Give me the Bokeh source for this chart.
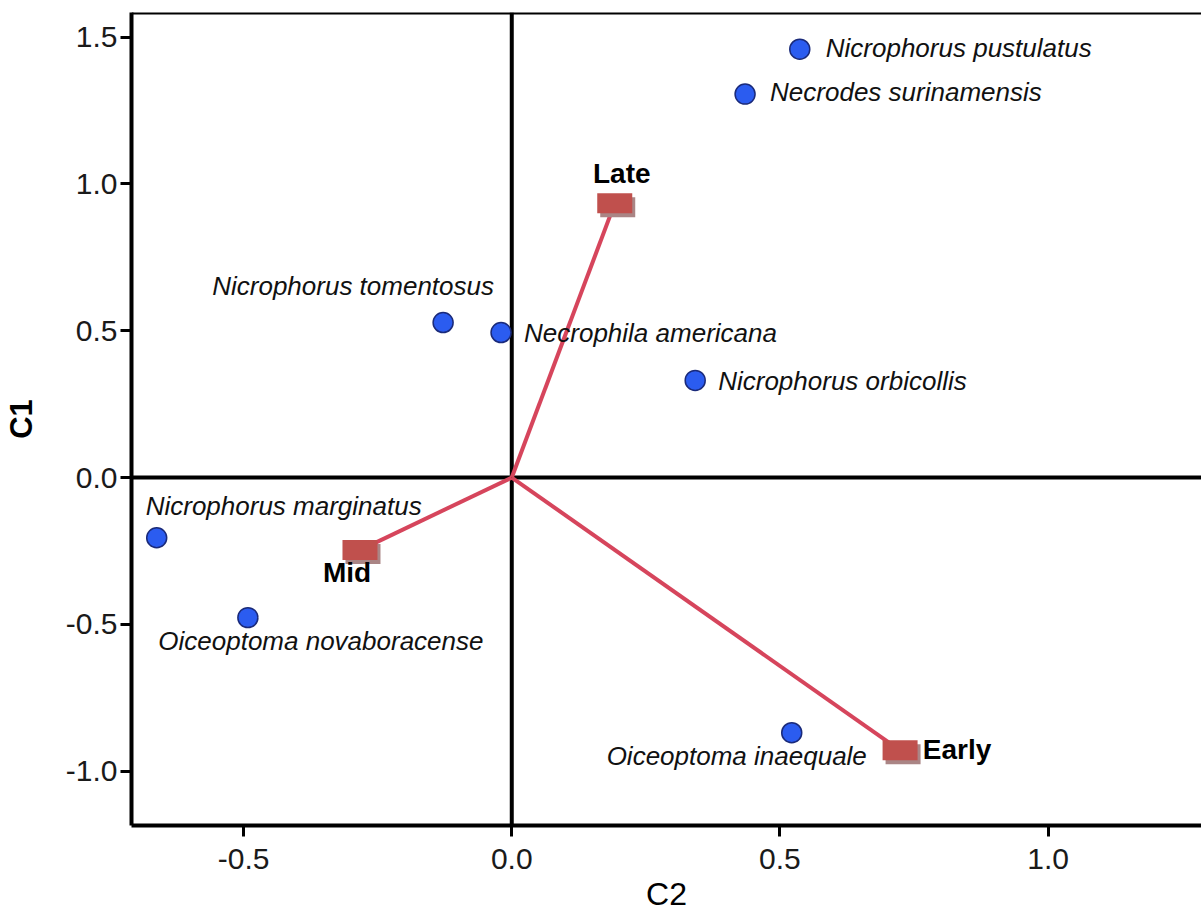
from bokeh.plotting import figure
from bokeh.models import ColumnDataSource, Span, FixedTicker, PrintfTickFormatter, Range1d
from bokeh.transform import dodge
from bokeh.core.properties import value
from bokeh.embed import file_html
from bokeh.resources import INLINE

# ---- data ----
species = ["Nicrophorus pustulatus", "Necrodes surinamensis", "Nicrophorus tomentosus",
           "Necrophila americana", "Nicrophorus orbicollis", "Nicrophorus marginatus",
           "Oiceoptoma novaboracense", "Oiceoptoma inaequale"]
species_c2 = [0.537, 0.435, -0.128, -0.020, 0.342, -0.662, -0.492, 0.522]
species_c1 = [1.459, 1.306, 0.528, 0.494, 0.331, -0.205, -0.477, -0.869]

stages = ["Late", "Mid", "Early"]
stage_c2 = [0.192, -0.283, 0.724]
stage_c1 = [0.934, -0.247, -0.929]

x_ticks = [-0.5, 0.0, 0.5, 1.0]
y_ticks = [-1.0, -0.5, 0.0, 0.5, 1.0, 1.5]
x_title = "C2"
y_title = "C1"

# ---- layout / style ----
X0, X1 = -0.709, 1.286
Y0, Y1 = -1.185, 1.584
W, H = 1201, 924
ML, MR, MT, MB = 130, 0, 12, 99
px_x = (W - ML - MR) / (X1 - X0)
px_y = (H - MT - MB) / (Y1 - Y0)

# label offsets (pixels): (dx, dy, align)
sp_off = [(26, -1, "left"), (25, -2, "left"), (-90, -37, "center"), (23, 0, "left"),
          (23, 1, "left"), (127, -32, "center"), (73, 23, "center"), (-55, 23, "center")]
st_off = [(7, -30), (-13, 22), (57, -1)]

p = figure(width=W, height=H, output_backend="svg", toolbar_location=None,
           x_range=Range1d(X0, X1), y_range=Range1d(Y0, Y1),
           min_border_left=ML, min_border_right=MR, min_border_top=MT, min_border_bottom=MB)
p.outline_line_color = None
p.grid.visible = False
p.background_fill_color = "white"
p.border_fill_color = "white"

for ax in (p.xaxis[0], p.yaxis[0]):
    ax.axis_line_width = 4
    ax.axis_line_color = "black"
    ax.major_tick_line_width = 3
    ax.major_tick_in = 0
    ax.major_tick_out = 11
    ax.minor_tick_line_color = None
    ax.major_label_text_font = "Liberation Sans"
    ax.major_label_text_font_size = "30px"
    ax.major_label_text_color = "#1a1a1a"
    ax.axis_label_text_font = "Liberation Sans"
    ax.axis_label_text_color = "black"
    ax.formatter = PrintfTickFormatter(format="%.1f")

p.xaxis.ticker = FixedTicker(ticks=x_ticks)
p.yaxis.ticker = FixedTicker(ticks=y_ticks)
p.xaxis.axis_label = x_title
p.yaxis.axis_label = y_title
p.xaxis.axis_label_text_font_style = "normal"
p.xaxis.axis_label_text_font_size = "32px"
p.yaxis.axis_label_text_font_style = "bold"
p.yaxis.axis_label_text_font_size = "31px"
p.xaxis.major_label_standoff = 12
p.yaxis.major_label_standoff = 3
p.xaxis.axis_label_standoff = 4
p.yaxis.axis_label_standoff = 24

# top border and zero lines
p.add_layout(Span(location=Y1, dimension="width", line_color="black", line_width=4, level="underlay"))
p.add_layout(Span(location=0, dimension="width", line_color="black", line_width=4, level="underlay"))
p.add_layout(Span(location=0, dimension="height", line_color="black", line_width=4, level="underlay"))

st_src = ColumnDataSource(dict(x=stage_c2, y=stage_c1, name=stages,
                               x0=[0] * len(stages), y0=[0] * len(stages),
                               dx=[o[0] for o in st_off], dy=[o[1] for o in st_off]))
p.segment(x0="x0", y0="y0", x1="x", y1="y", source=st_src, line_color="#d6455c", line_width=4)

# species points
sp_src = ColumnDataSource(dict(x=species_c2, y=species_c1, name=species,
                               dx=[o[0] for o in sp_off], dy=[o[1] for o in sp_off],
                               align=[o[2] for o in sp_off]))
p.scatter("x", "y", source=sp_src, size=20, fill_color="#2b5cf0", line_color="#1a2a7a", line_width=1.5)
p.text("x", "y", text="name", source=sp_src, x_offset="dx", y_offset="dy", text_align="align",
       text_baseline="middle", text_font=value("Liberation Sans"), text_font_style="italic",
       text_font_size="26px", text_color="#111111")

# stage squares with shadow
p.rect(x=dodge("x", 3 / px_x, range=p.x_range), y=dodge("y", -4 / px_y, range=p.y_range),
       width=35, height=20, width_units="screen", height_units="screen",
       source=st_src, fill_color="#aa8585", line_color=None)
p.rect(x="x", y="y", width=35, height=20, width_units="screen", height_units="screen",
       source=st_src, fill_color="#c0504d", line_color=None)
p.text("x", "y", text="name", source=st_src, x_offset="dx", y_offset="dy", text_align="center",
       text_baseline="middle", text_font=value("Liberation Sans"), text_font_style="bold",
       text_font_size="28px", text_color="black")

open("out.html", "w").write(file_html(p, INLINE))
